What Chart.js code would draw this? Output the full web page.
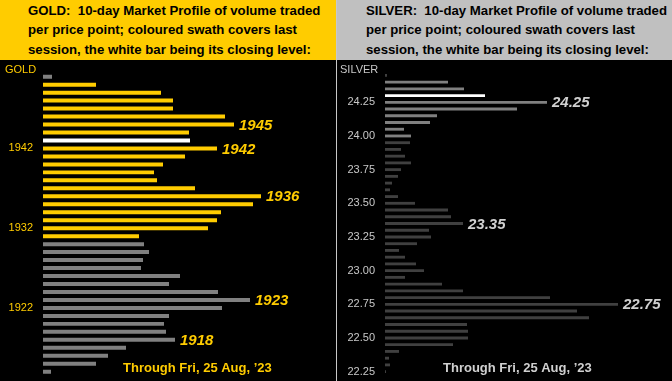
<!DOCTYPE html>
<html>
<head>
<meta charset="utf-8">
<script src="https://cdn.jsdelivr.net/npm/chart.js@4/dist/chart.umd.min.js"></script>
<style>
  html, body { margin: 0; padding: 0; background: #000; width: 672px; height: 381px; overflow: hidden; }
  .hdr { position: absolute; top: 0; height: 60px; font: bold 13.2px "Liberation Sans", Arial, sans-serif; line-height: 19.7px; white-space: pre; color: #000; box-sizing: border-box; padding-top: 0.5px; }
  #hg { left: 0; width: 336px; background: #FFCC00; padding-left: 28px; }
  #hs { left: 337px; width: 335px; background: #C0C0C0; padding-left: 29px; }
  #sep { position: absolute; left: 336px; top: 0; width: 1px; height: 381px; background: #C8C8C8; }
  .box { position: absolute; top: 60px; height: 321px; }
  #bg { left: 0; width: 336px; }
  #bs { left: 337px; width: 335px; }
</style>
</head>
<body>
<div class="hdr" id="hg">GOLD:  10-day Market Profile of volume traded
per price point; coloured swath covers last
session, the white bar being its closing level:</div>
<div class="hdr" id="hs">SILVER:  10-day Market Profile of volume traded
per price point; coloured swath covers last
session, the white bar being its closing level:</div>
<div id="sep"></div>
<div class="box" id="bg"><canvas id="cg"></canvas></div>
<div class="box" id="bs"><canvas id="cs"></canvas></div>
<script>
// ---------- GOLD ----------
const goldPrices = ["1951","1950","1949","1948","1947","1946","1945","1944","1943","1942",
  "1941","1940","1939","1938","1937","1936","1935","1934","1933","1932",
  "1931","1930","1929","1928","1927","1926","1925","1924","1923","1922",
  "1921","1920","1919","1918","1917","1916","1915","1914"];
const goldVolume = [9,53,118,130,130,182,191,146,147,174,
  142,120,111,114,152,218,210,178,174,165,
  96,101,106,100,98,137,126,175,207,179,
  126,121,123,132,83,65,53,8];
const goldTicks = ["1942","1932","1922"];
const goldSwath = ["1950","1931"];   // high, low of last session
const goldClose = "1943";
const goldMarked = ["1945","1942","1936","1923","1918"];

// ---------- SILVER ----------
const silverPrices = ["24.45","24.40","24.35","24.30","24.25","24.20","24.15","24.10","24.05","24.00",
  "23.95","23.90","23.85","23.80","23.75","23.70","23.65","23.60","23.55","23.50",
  "23.45","23.40","23.35","23.30","23.25","23.20","23.15","23.10","23.05","23.00",
  "22.95","22.90","22.85","22.80","22.75","22.70","22.65","22.60","22.55","22.50",
  "22.45","22.40","22.35","22.30","22.25"];
const silverVolume = [2,63,79,100,162,132,52,45,19,26,
  25,16,20,26,16,13,7,5,13,30,
  63,66,78,44,46,32,14,20,31,39,
  20,57,78,165,233,192,204,82,83,83,
  68,14,4,5,1];
const silverTicks = ["24.25","24.00","23.75","23.50","23.25","23.00","22.75","22.50","22.25"];
const silverSwath = ["24.40","24.00"];
const silverClose = "24.30";
const silverMarked = ["24.25","23.35","22.75"];

const footerText = "Through Fri, 25 Aug, \u201923";

function colours(prices, swath, close, swathCol, baseCol) {
  const hi = prices.indexOf(swath[0]), lo = prices.indexOf(swath[1]);
  return prices.map((p, i) => p === close ? "#FFFFFF" : (i >= hi && i <= lo ? swathCol : baseCol));
}

const markPlugin = {
  id: "marks",
  afterDatasetsDraw(chart, args, opts) {
    const ctx = chart.ctx, xs = chart.scales.x, ys = chart.scales.y;
    const prices = chart.data.labels, vals = chart.data.datasets[0].data;
    ctx.save();
    ctx.font = "italic bold 15px 'Liberation Sans', Arial, sans-serif";
    ctx.textBaseline = "middle";
    ctx.textAlign = "left";
    opts.marked.forEach(p => {
      const i = prices.indexOf(p);
      const x = xs.getPixelForValue(vals[i]) + 5;
      const y = ys.getPixelForValue(i) + 1;
      ctx.lineWidth = 2;
      ctx.strokeStyle = "rgba(0,0,0,0.6)";
      ctx.strokeText(p, x, y);
      ctx.fillStyle = opts.markColor;
      ctx.fillText(p, x, y);
    });
    // corner name
    ctx.font = "11px 'Liberation Sans', Arial, sans-serif";
    ctx.textBaseline = "alphabetic";
    ctx.fillStyle = opts.textColor;
    ctx.fillText(opts.name, opts.nameX, 12.7);
    // footer
    ctx.font = "bold 13px 'Liberation Sans', Arial, sans-serif";
    ctx.fillStyle = opts.markColor;
    ctx.fillText(footerText, opts.footX, 311.5);
    ctx.restore();
  }
};

function makeChart(id, prices, vols, ticks, cols, barPct, axisW, xMax, padTop, padBottom, padRight, textColor, markColor, marked, name, nameX, footX) {
  return new Chart(document.getElementById(id), {
    type: "bar",
    data: { labels: prices, datasets: [{ data: vols, backgroundColor: cols, borderWidth: 0, barPercentage: barPct, categoryPercentage: 1 }] },
    options: {
      indexAxis: "y",
      responsive: true,
      maintainAspectRatio: false,
      animation: false,
      events: [],
      layout: { padding: { top: padTop, bottom: padBottom, right: padRight, left: 0 } },
      plugins: { legend: { display: false }, tooltip: { enabled: false },
        marks: { marked, markColor, textColor, name, nameX, footX } },
      scales: {
        x: { display: false, min: 0, max: xMax },
        y: {
          grid: { display: false, drawTicks: false },
          border: { display: false },
          afterFit(s) { s.width = axisW; s.paddingTop = 0; s.paddingBottom = 0; },
          ticks: {
            autoSkip: false, padding: 10, color: textColor,
            font: { family: "'Liberation Sans', Arial, sans-serif", size: 11 },
            callback(v) { const l = this.getLabelForValue(v); return ticks.includes(l) ? l : ""; }
          }
        }
      }
    },
    plugins: [markPlugin]
  });
}

makeChart("cg", goldPrices, goldVolume, goldTicks,
  colours(goldPrices, goldSwath, goldClose, "#FFCC00", "#808080"),
  0.5, 43, 290, 12.7, 5.3, 3, "#FFCC00", "#FFCC00", goldMarked, "GOLD", 5, 123);

makeChart("cs", silverPrices, silverVolume, silverTicks,
  colours(silverPrices, silverSwath, silverClose, "#808080", "#404040"),
  0.42, 48, 282, 12, 6, 5, "#C8C8C8", "#D0D0D0", silverMarked, "SILVER", 3, 106);
</script>
</body>
</html>
